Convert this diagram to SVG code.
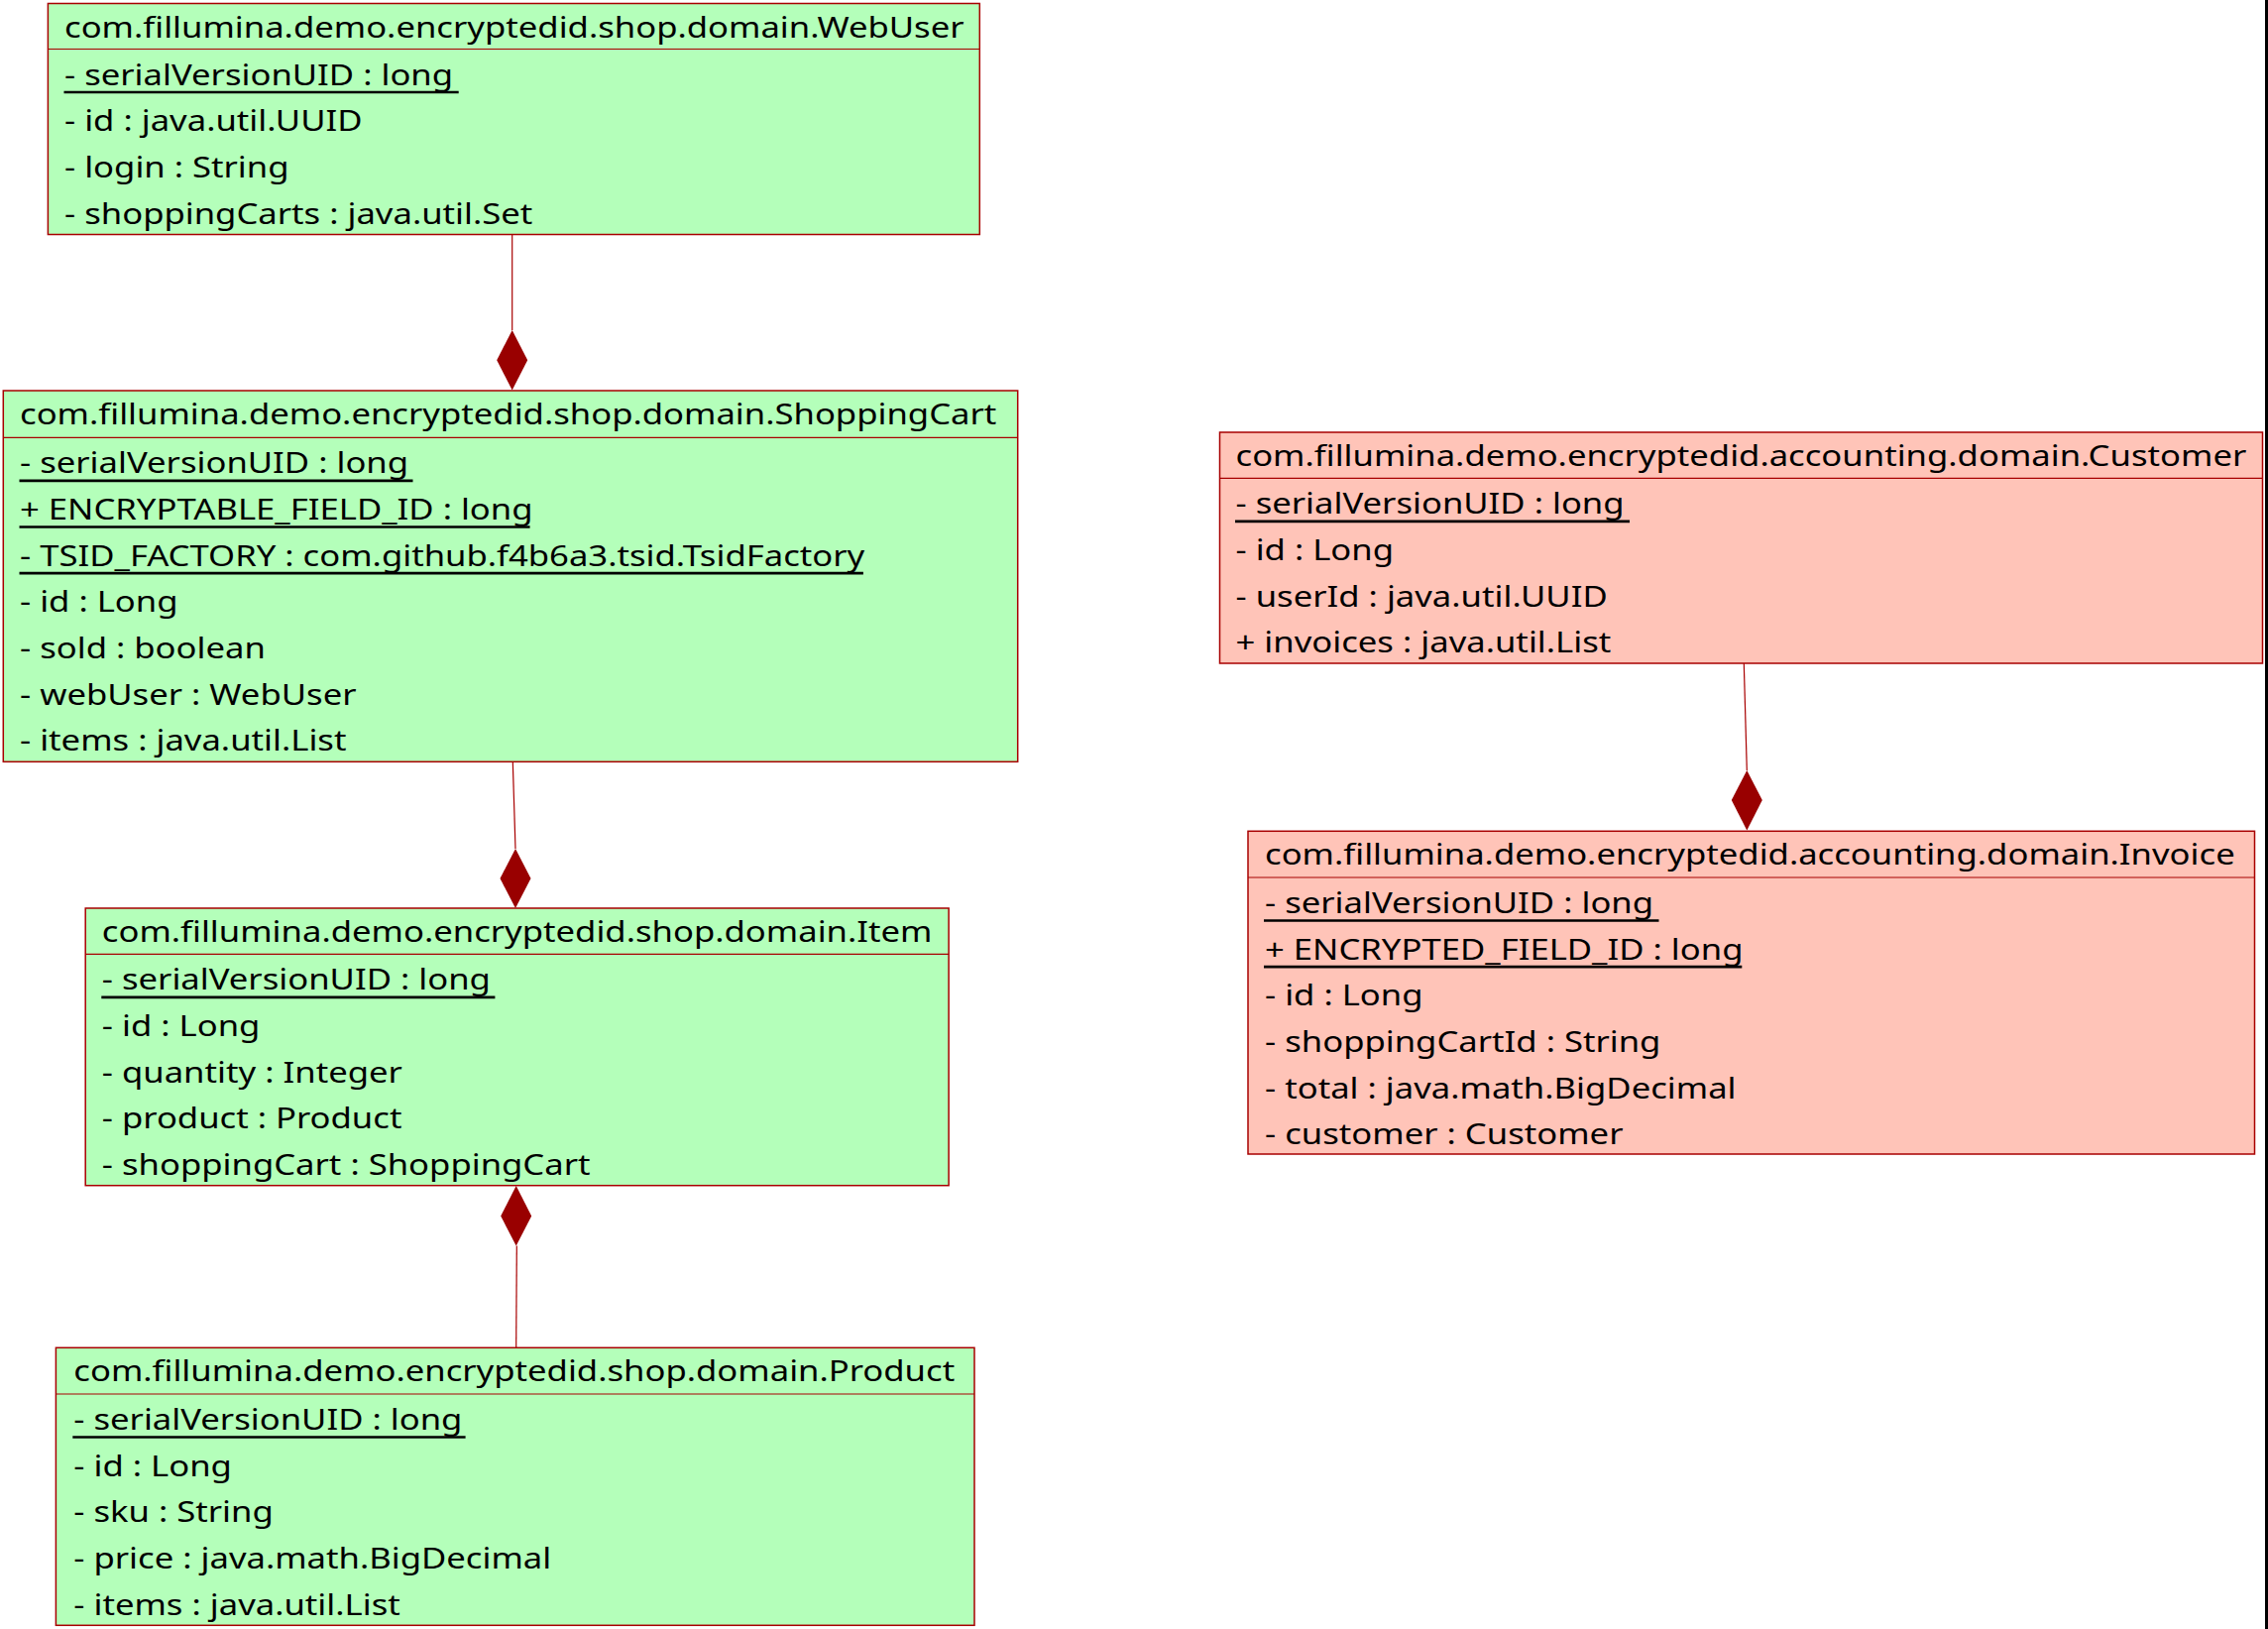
<svg xmlns="http://www.w3.org/2000/svg" width="2288" height="1643" viewBox="0 0 2288 1643">
<style>
.frame{stroke:#A80000;stroke-width:1.5}
.g{fill:#B4FFBA}
.p{fill:#FFC4B8}
.sep{stroke:#A80000;stroke-width:1.2}
.t{font-family:"Noto Sans","Open Sans","DejaVu Sans",sans-serif;font-size:29.5px;fill:#000}
.ul{stroke:#000;stroke-width:2.7}
.conn line{stroke:#A80000;stroke-width:1.2}
.dia{fill:#990000}
</style>
<rect x="0" y="0" width="2288" height="1643" fill="#FFFFFF"/>
<rect x="2285" y="0" width="3" height="1643" fill="#000000"/>

<g id="connectors" class="conn">
  <line x1="516.7" y1="236.5" x2="516.7" y2="333"/>
  <polygon class="dia" points="516.7,333 532.2,363.3 516.7,393.5 501.2,363.3"/>
  <line x1="517.3" y1="768.3" x2="520" y2="856"/>
  <polygon class="dia" points="520,856 535.5,886 520,916 504.5,886"/>
  <polygon class="dia" points="520.7,1196 536.2,1226.5 520.7,1256.5 505.2,1226.5"/>
  <line x1="521.3" y1="1256.5" x2="520.7" y2="1359.3"/>
  <line x1="1759.3" y1="669" x2="1762.3" y2="777"/>
  <polygon class="dia" points="1762.3,777 1777.8,807 1762.3,837.5 1746.8,807"/>
</g>

<g id="WebUser">
  <rect class="frame g" x="48.4" y="3.5" width="939.9" height="233"/>
  <line class="sep" x1="48.4" y1="49.5" x2="988.3" y2="49.5"/>
  <text class="t" transform="translate(65,37.5) scale(1.175,1)">com.fillumina.demo.encryptedid.shop.domain.WebUser</text>
  <text class="t" transform="translate(65,85.5) scale(1.175,1)">- serialVersionUID : long</text>
  <line class="ul" x1="64.5" y1="93" x2="462.7" y2="93"/>
  <text class="t" transform="translate(65,132.2) scale(1.175,1)">- id : java.util.UUID</text>
  <text class="t" transform="translate(65,178.8) scale(1.175,1)">- login : String</text>
  <text class="t" transform="translate(65,225.5) scale(1.175,1)">- shoppingCarts : java.util.Set</text>
</g>

<g id="ShoppingCart">
  <rect class="frame g" x="3.3" y="394" width="1023.4" height="374.3"/>
  <line class="sep" x1="3.3" y1="441.3" x2="1026.7" y2="441.3"/>
  <text class="t" transform="translate(20,428) scale(1.175,1)">com.fillumina.demo.encryptedid.shop.domain.ShoppingCart</text>
  <text class="t" transform="translate(20,477.3) scale(1.175,1)">- serialVersionUID : long</text>
  <line class="ul" x1="19.5" y1="484.8" x2="416.5" y2="484.8"/>
  <text class="t" transform="translate(20,524) scale(1.175,1)">+ ENCRYPTABLE_FIELD_ID : long</text>
  <line class="ul" x1="19.5" y1="531.5" x2="534.6" y2="531.5"/>
  <text class="t" transform="translate(20,570.7) scale(1.175,1)">- TSID_FACTORY : com.github.f4b6a3.tsid.TsidFactory</text>
  <line class="ul" x1="19.5" y1="578.2" x2="870.9" y2="578.2"/>
  <text class="t" transform="translate(20,617.3) scale(1.175,1)">- id : Long</text>
  <text class="t" transform="translate(20,664) scale(1.175,1)">- sold : boolean</text>
  <text class="t" transform="translate(20,710.7) scale(1.175,1)">- webUser : WebUser</text>
  <text class="t" transform="translate(20,757.3) scale(1.175,1)">- items : java.util.List</text>
</g>

<g id="Item">
  <rect class="frame g" x="86.2" y="916" width="870.9" height="279.7"/>
  <line class="sep" x1="86.2" y1="962.3" x2="957.1" y2="962.3"/>
  <text class="t" transform="translate(102.8,950) scale(1.175,1)">com.fillumina.demo.encryptedid.shop.domain.Item</text>
  <text class="t" transform="translate(102.8,998.3) scale(1.175,1)">- serialVersionUID : long</text>
  <line class="ul" x1="102.3" y1="1005.8" x2="499.4" y2="1005.8"/>
  <text class="t" transform="translate(102.8,1045) scale(1.175,1)">- id : Long</text>
  <text class="t" transform="translate(102.8,1091.7) scale(1.175,1)">- quantity : Integer</text>
  <text class="t" transform="translate(102.8,1138.3) scale(1.175,1)">- product : Product</text>
  <text class="t" transform="translate(102.8,1185) scale(1.175,1)">- shoppingCart : ShoppingCart</text>
</g>

<g id="Product">
  <rect class="frame g" x="56.4" y="1359.3" width="926.6" height="280"/>
  <line class="sep" x1="56.4" y1="1406" x2="983" y2="1406"/>
  <text class="t" transform="translate(74.3,1393.3) scale(1.175,1)">com.fillumina.demo.encryptedid.shop.domain.Product</text>
  <text class="t" transform="translate(74.3,1442) scale(1.175,1)">- serialVersionUID : long</text>
  <line class="ul" x1="73.3" y1="1449.5" x2="469.6" y2="1449.5"/>
  <text class="t" transform="translate(74.3,1488.7) scale(1.175,1)">- id : Long</text>
  <text class="t" transform="translate(74.3,1535.3) scale(1.175,1)">- sku : String</text>
  <text class="t" transform="translate(74.3,1582) scale(1.175,1)">- price : java.math.BigDecimal</text>
  <text class="t" transform="translate(74.3,1628.7) scale(1.175,1)">- items : java.util.List</text>
</g>

<g id="Customer">
  <rect class="frame p" x="1230.5" y="436" width="1052" height="233"/>
  <line class="sep" x1="1230.5" y1="482.3" x2="2282.5" y2="482.3"/>
  <text class="t" transform="translate(1246.5,470) scale(1.175,1)">com.fillumina.demo.encryptedid.accounting.domain.Customer</text>
  <text class="t" transform="translate(1246.5,518.3) scale(1.175,1)">- serialVersionUID : long</text>
  <line class="ul" x1="1246" y1="525.8" x2="1644" y2="525.8"/>
  <text class="t" transform="translate(1246.5,565) scale(1.175,1)">- id : Long</text>
  <text class="t" transform="translate(1246.5,611.7) scale(1.175,1)">- userId : java.util.UUID</text>
  <text class="t" transform="translate(1246.5,658.3) scale(1.175,1)">+ invoices : java.util.List</text>
</g>

<g id="Invoice">
  <rect class="frame p" x="1259" y="838.3" width="1015.5" height="325.7"/>
  <line class="sep" x1="1259" y1="885" x2="2274.5" y2="885"/>
  <text class="t" transform="translate(1276,872.3) scale(1.175,1)">com.fillumina.demo.encryptedid.accounting.domain.Invoice</text>
  <text class="t" transform="translate(1276,921) scale(1.175,1)">- serialVersionUID : long</text>
  <line class="ul" x1="1275" y1="928.5" x2="1673.5" y2="928.5"/>
  <text class="t" transform="translate(1276,967.7) scale(1.175,1)">+ ENCRYPTED_FIELD_ID : long</text>
  <line class="ul" x1="1275" y1="975.2" x2="1757.3" y2="975.2"/>
  <text class="t" transform="translate(1276,1014.3) scale(1.175,1)">- id : Long</text>
  <text class="t" transform="translate(1276,1061) scale(1.175,1)">- shoppingCartId : String</text>
  <text class="t" transform="translate(1276,1107.7) scale(1.175,1)">- total : java.math.BigDecimal</text>
  <text class="t" transform="translate(1276,1154.3) scale(1.175,1)">- customer : Customer</text>
</g>
</svg>
